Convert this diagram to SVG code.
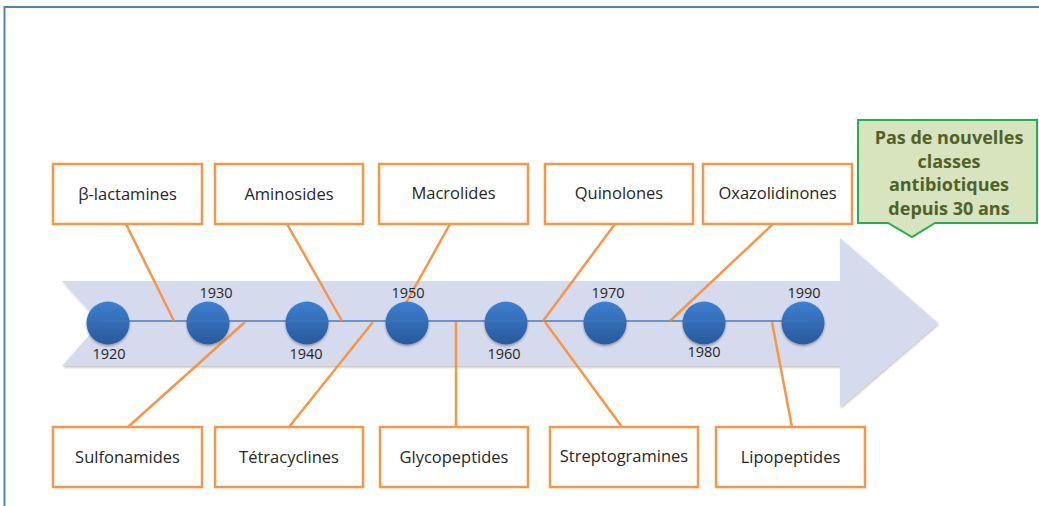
<svg xmlns="http://www.w3.org/2000/svg" width="1039" height="506" viewBox="0 0 1039 506">
<defs>
<style>
.box{fill:#fff;stroke:#f79646;stroke-width:2.5}
.lbl{font-family:"Open Sans","Liberation Sans",sans-serif;font-size:16.5px;fill:#262626;text-anchor:middle}
.yr{font-family:"Open Sans","Liberation Sans",sans-serif;font-size:14.5px;fill:#262626;text-anchor:middle}
.con{stroke:#f79646;stroke-width:2.5;fill:none}
.dot{fill:url(#g);filter:url(#sh)}
.call{font-family:"Open Sans","Liberation Sans",sans-serif;font-size:18px;font-weight:bold;fill:#4f6228;text-anchor:middle}
</style>
<linearGradient id="g" x1="0" y1="0" x2="0" y2="1">
<stop offset="0" stop-color="#3d80d0"/>
<stop offset="1" stop-color="#28599a"/>
</linearGradient>
<filter id="sh" x="-30%" y="-30%" width="160%" height="160%">
<feDropShadow dx="0" dy="1.5" stdDeviation="1.2" flood-color="#000" flood-opacity="0.35"/>
</filter>
<filter id="ash" x="-5%" y="-5%" width="110%" height="115%">
<feDropShadow dx="1" dy="1.5" stdDeviation="0.8" flood-color="#000" flood-opacity="0.25"/>
</filter>
</defs>
<rect width="1039" height="506" fill="#fff"/>
<path d="M4.5 506 V7 H1039" fill="none" stroke="#4f81bd" stroke-width="2"/>

<g id="arrow">
<polygon points="62,281 840,281 840,238 938,323 840,407 840,366 62,366 100,323" fill="#d5daed" filter="url(#ash)"/>
</g>

<line x1="100" y1="321" x2="810" y2="321" stroke="#4f81bd" stroke-width="1.3"/>

<g id="connectors">
<line class="con" x1="126" y1="224" x2="174" y2="321"/>
<line class="con" x1="287" y1="224" x2="342" y2="321"/>
<line class="con" x1="450" y1="224" x2="406" y2="303"/>
<line class="con" x1="615" y1="224" x2="543" y2="321"/>
<line class="con" x1="773" y1="224" x2="670" y2="321"/>
<line class="con" x1="128" y1="427" x2="245" y2="322"/>
<line class="con" x1="289" y1="427" x2="373" y2="322"/>
<line class="con" x1="456" y1="427" x2="456" y2="322"/>
<line class="con" x1="622" y1="427" x2="545" y2="322"/>
<line class="con" x1="792" y1="427" x2="772" y2="322"/>
</g>

<g id="timeline">
<circle class="dot" cx="108" cy="323" r="21.5"/>
<circle class="dot" cx="208" cy="323" r="21.5"/>
<circle class="dot" cx="307" cy="323" r="21.5"/>
<circle class="dot" cx="407" cy="323" r="21.5"/>
<circle class="dot" cx="506" cy="323" r="21.5"/>
<circle class="dot" cx="605" cy="323" r="21.5"/>
<circle class="dot" cx="704" cy="323" r="21.5"/>
<circle class="dot" cx="803" cy="323" r="21.5"/>
<line x1="100" y1="321" x2="810" y2="321" stroke="#4f81bd" stroke-width="1" opacity="0.35"/>
<text class="yr" x="109" y="359">1920</text>
<text class="yr" x="216" y="298">1930</text>
<text class="yr" x="306" y="359">1940</text>
<text class="yr" x="408" y="298">1950</text>
<text class="yr" x="504" y="359">1960</text>
<text class="yr" x="608" y="298">1970</text>
<text class="yr" x="704" y="357">1980</text>
<text class="yr" x="804" y="298">1990</text>
</g>

<g id="n-blactamines"><rect class="box" x="53" y="164" width="149" height="60"/><text class="lbl" x="127.5" y="200">β-lactamines</text></g>
<g id="n-aminosides"><rect class="box" x="215" y="164" width="148" height="60"/><text class="lbl" x="289" y="200">Aminosides</text></g>
<g id="n-macrolides"><rect class="box" x="379" y="164" width="149" height="60"/><text class="lbl" x="453.5" y="199">Macrolides</text></g>
<g id="n-quinolones"><rect class="box" x="545" y="164" width="148" height="60"/><text class="lbl" x="619" y="199">Quinolones</text></g>
<g id="n-oxazolidinones"><rect class="box" x="703" y="164" width="149" height="60"/><text class="lbl" x="777.5" y="199">Oxazolidinones</text></g>

<g id="n-sulfonamides"><rect class="box" x="53" y="427" width="149" height="60"/><text class="lbl" x="127.5" y="463">Sulfonamides</text></g>
<g id="n-tetracyclines"><rect class="box" x="215" y="427" width="148" height="60"/><text class="lbl" x="289" y="463">Tétracyclines</text></g>
<g id="n-glycopeptides"><rect class="box" x="380" y="427" width="148" height="60"/><text class="lbl" x="454" y="463">Glycopeptides</text></g>
<g id="n-streptogramines"><rect class="box" x="550" y="427" width="148" height="60"/><text class="lbl" x="624" y="462">Streptogramines</text></g>
<g id="n-lipopeptides"><rect class="box" x="716" y="427" width="149" height="60"/><text class="lbl" x="790.5" y="463">Lipopeptides</text></g>

<g id="n-callout">
<path d="M858 120 H1037 V223 H935 L912 237 L888 223 H858 Z" fill="#d7e4bd" stroke="#1fb052" stroke-width="2"/>
<text class="call" x="949" y="144">Pas de nouvelles</text>
<text class="call" x="949" y="168">classes</text>
<text class="call" x="949" y="191">antibiotiques</text>
<text class="call" x="949" y="215">depuis 30 ans</text>
</g>
</svg>
